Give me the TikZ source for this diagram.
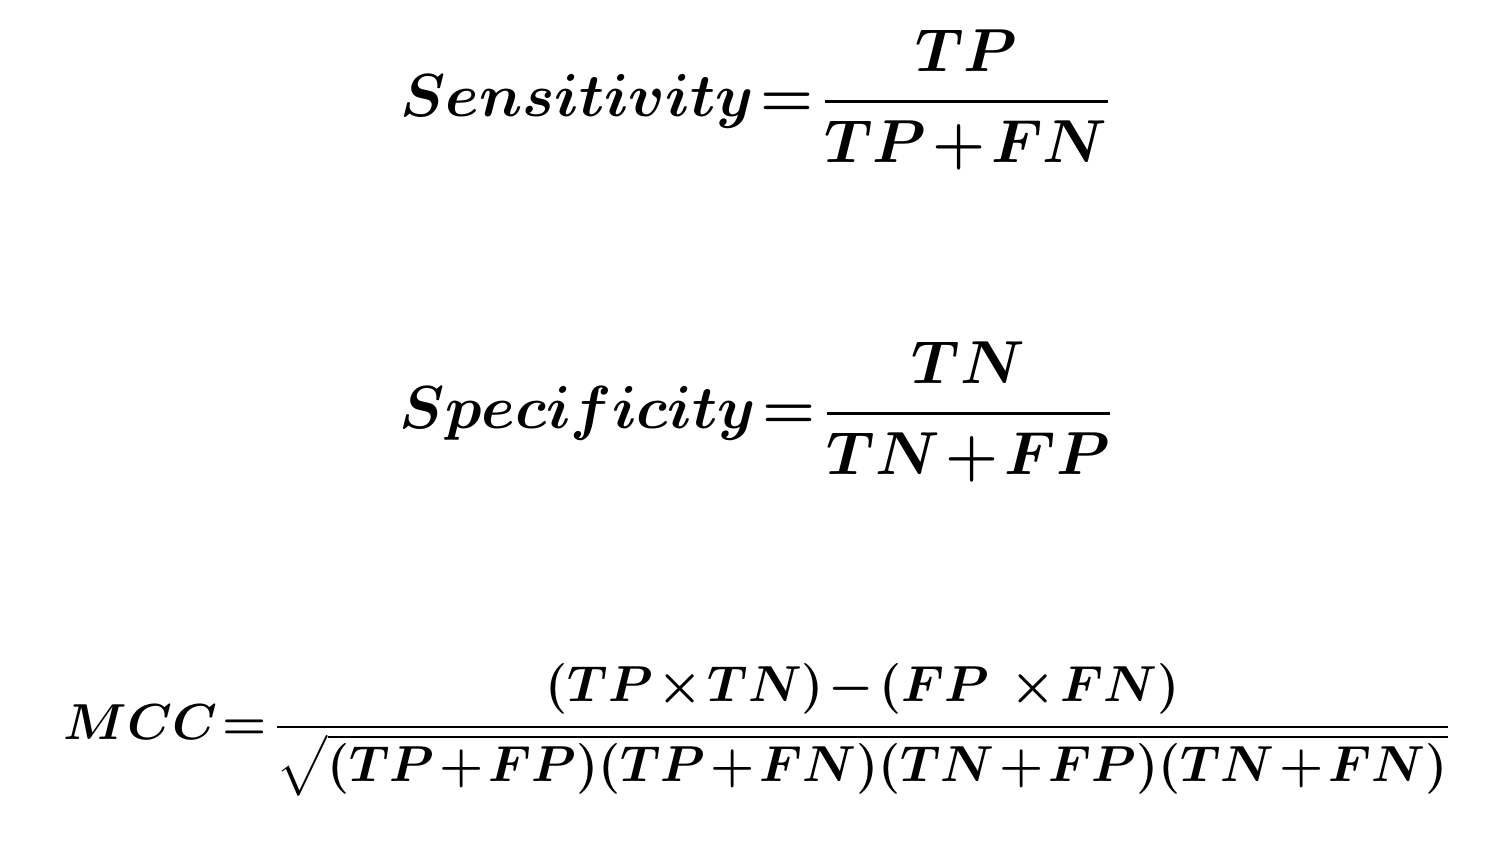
\documentclass[tikz,border=0pt]{standalone}
\usepackage{amsmath,bm}
\begin{document}
\begin{tikzpicture}[x=1cm,y=1cm,eq/.style={inner sep=0pt,font=\fontsize{16}{19}\selectfont}]
\useasboundingbox (0,0) rectangle (15.12,-8.56);
\node[eq] (sens) at (7.56,-1.0) {$\medmuskip=1.5mu \thickmuskip=2mu\displaystyle\bm{Sensitivity=\frac{TP}{TP+FN}}$};
\node[eq] (spec) at (7.57,-4.12) {$\medmuskip=1.5mu \thickmuskip=2mu\displaystyle\bm{Specificity=\frac{TN}{TN+FP}}$};
\node[eq] (mcc) at (7.58,-7.3) {\fontsize{15.4}{18}\selectfont$\medmuskip=1.5mu \thickmuskip=2mu\displaystyle\bm{MCC=\frac{(TP\times TN)-(FP\ \times FN)}{\sqrt{(TP+FP)(TP+FN)(TN+FP)(TN+FN)}}}$};
\end{tikzpicture}
\end{document}
